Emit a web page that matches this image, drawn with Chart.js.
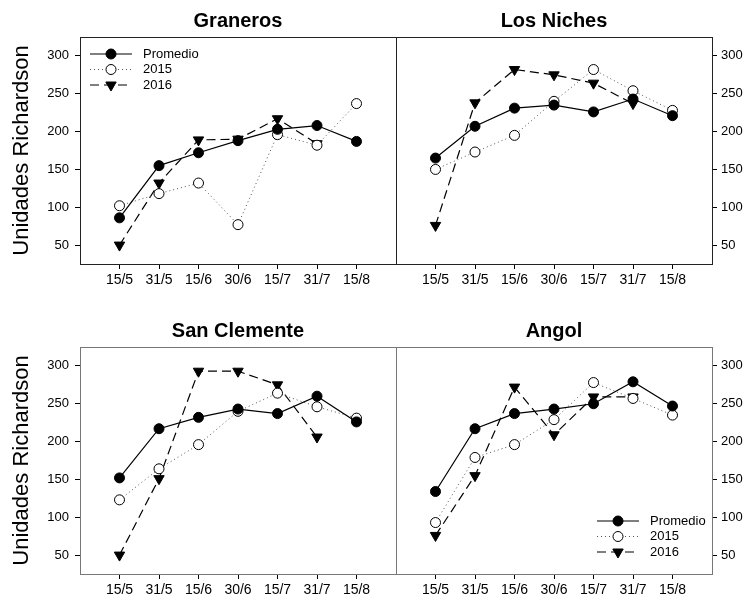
<!DOCTYPE html>
<html>
<head>
<meta charset="utf-8">
<script src="https://cdn.jsdelivr.net/npm/chart.js@4/dist/chart.umd.min.js"></script>
<style>
  body { margin: 0; background: #fff; width: 743px; height: 605px; overflow: hidden; position: relative; }
  canvas { position: absolute; }
</style>
</head>
<body>
<canvas id="graneros" width="397" height="300" style="left:0;top:0"></canvas>
<canvas id="niches" width="347" height="300" style="left:396px;top:0"></canvas>
<canvas id="clemente" width="397" height="300" style="left:0;top:310px"></canvas>
<canvas id="angol" width="347" height="300" style="left:396px;top:310px"></canvas>
<script>
// categories and tick labels
const categories = ["15/5", "31/5", "15/6", "30/6", "15/7", "31/7", "15/8"];
const yTicks = [50, 100, 150, 200, 250, 300];
const seriesNames = ["Promedio", "2015", "2016"];

// values (Unidades Richardson)
const granerosPromedio = [86, 155, 172, 188, 203, 208, 187];
const graneros2015 = [102, 118, 132, 77, 196, 182, 237];
const graneros2016 = [50, 132, 189, 190, 217, 184, null];

const nichesPromedio = [165, 207, 231, 235, 226, 243, 221];
const niches2015 = [150, 173, 195, 240, 282, 254, 228];
const niches2016 = [76, 238, 282, 275, 264, 237, null];

const clementePromedio = [152, 217, 232, 243, 237, 260, 226];
const clemente2015 = [123, 164, 196, 240, 264, 246, 231];
const clemente2016 = [50, 151, 293, 293, 275, 206, null];

const angolPromedio = [134, 217, 237, 243, 250, 279, 247];
const angol2015 = [93, 179, 196, 229, 278, 257, 235];
const angol2016 = [76, 155, 272, 209, 259, 259, null];

const FONT = "'Liberation Sans', Arial, sans-serif";

// series styles
const styles = [
  { borderColor: "#000", borderWidth: 1.2, borderDash: [], pointStyle: "circle", pointRadius: 5, pointBackgroundColor: "#000", pointBorderColor: "#000", pointBorderWidth: 1, pointRotation: 0 },
  { borderColor: "#555", borderWidth: 1, borderDash: [1, 3], pointStyle: "circle", pointRadius: 5, pointBackgroundColor: "#fff", pointBorderColor: "#000", pointBorderWidth: 1, pointRotation: 0 },
  { borderColor: "#000", borderWidth: 1.2, borderDash: [9, 5], pointStyle: "triangle", pointRadius: 6, pointBackgroundColor: "#000", pointBorderColor: "#000", pointBorderWidth: 1, pointRotation: 180 },
];

function toPoints(values) {
  return values.map((v, i) => ({ x: i, y: v }));
}

// frame around the plot area
const boxPlugin = {
  id: "box",
  afterDraw(chart, args, opts) {
    const { ctx, chartArea: a } = chart;
    ctx.save();
    ctx.strokeStyle = opts.color || "#000";
    ctx.lineWidth = 1;
    ctx.strokeRect(Math.round(a.left) + 0.5, Math.round(a.top) + 0.5, Math.round(a.right - a.left), Math.round(a.bottom - a.top));
    ctx.restore();
  },
};

// legend drawn inside the plot area
const innerLegend = {
  id: "innerLegend",
  afterDatasetsDraw(chart, args, opts) {
    if (!opts.show) return;
    const { ctx, chartArea: a } = chart;
    const x0 = a.left + opts.x;
    let y = a.top + opts.y;
    ctx.save();
    seriesNames.forEach((name, i) => {
      const s = styles[i];
      ctx.strokeStyle = s.borderColor;
      ctx.lineWidth = s.borderWidth;
      ctx.setLineDash(s.borderDash);
      ctx.beginPath();
      ctx.moveTo(x0, y);
      ctx.lineTo(x0 + 42, y);
      ctx.stroke();
      ctx.setLineDash([]);
      ctx.fillStyle = s.pointBackgroundColor;
      ctx.strokeStyle = s.pointBorderColor;
      ctx.lineWidth = 1;
      Chart.helpers.drawPoint(ctx, { pointStyle: s.pointStyle, radius: s.pointRadius, rotation: s.pointRotation, borderWidth: 1 }, x0 + 21, y);
      ctx.fillStyle = "#000";
      ctx.font = "13px " + FONT;
      ctx.textBaseline = "middle";
      ctx.fillText(name, x0 + 53, y);
      y += 15.5;
    });
    ctx.restore();
  },
};

function makePanel(id, title, series, side, legendPos, frameColor) {
  const datasets = series.map((values, i) => ({
    label: seriesNames[i],
    data: toPoints(values),
    ...styles[i],
    fill: false,
    tension: 0,
    spanGaps: false,
  }));
  const isLeft = side === "left";
  new Chart(document.getElementById(id).getContext("2d"), {
    type: "line",
    data: { datasets },
    options: {
      responsive: false,
      animation: false,
      events: [],
      layout: { autoPadding: false, padding: { left: 0, right: isLeft ? 1 : 0, top: 0, bottom: 0 } },
      scales: {
        x: {
          type: "linear",
          min: -1,
          max: 7,
          afterBuildTicks: (s) => { s.ticks = categories.map((c, i) => ({ value: i })); },
          afterFit: (s) => { s.height = 36; s.paddingLeft = 0; s.paddingRight = 0; },
          ticks: {
            callback: (v) => categories[v],
            autoSkip: false,
            maxRotation: 0,
            color: "#000",
            padding: 3,
            font: { family: FONT, size: 14 },
          },
          grid: { drawOnChartArea: false, drawTicks: true, tickLength: 5, tickColor: "#000" },
          border: { display: false },
        },
        y: {
          type: "linear",
          position: side,
          min: 25,
          max: 325,
          afterBuildTicks: (s) => { s.ticks = yTicks.map((v) => ({ value: v })); },
          afterFit: (s) => { s.width = isLeft ? 80 : 31; s.paddingTop = 0; s.paddingBottom = 0; },
          ticks: {
            color: "#000",
            padding: isLeft ? 6 : 4,
            font: { family: FONT, size: 13 },
          },
          grid: { drawOnChartArea: false, drawTicks: true, tickLength: 5, tickColor: "#000" },
          border: { display: false },
          title: {
            display: isLeft,
            text: "Unidades Richardson",
            color: "#000",
            font: { family: FONT, size: 22 },
            padding: { top: 9, bottom: 0 },
          },
        },
      },
      plugins: {
        legend: { display: false },
        tooltip: { enabled: false },
        title: {
          display: true,
          text: title,
          fullSize: false,
          color: "#000",
          font: { family: FONT, size: 20, weight: "bold", lineHeight: 1 },
          padding: { top: 11, bottom: 6 },
        },
        box: { color: frameColor },
        innerLegend: legendPos ? { show: true, ...legendPos } : { show: false },
      },
    },
    plugins: [boxPlugin, innerLegend],
  });
}

makePanel("graneros", "Graneros", [granerosPromedio, graneros2015, graneros2016], "left", { x: 10, y: 17 }, "#222");
makePanel("niches", "Los Niches", [nichesPromedio, niches2015, niches2016], "right", null, "#222");
makePanel("clemente", "San Clemente", [clementePromedio, clemente2015, clemente2016], "left", null, "#777");
makePanel("angol", "Angol", [angolPromedio, angol2015, angol2016], "right", { x: 201, y: 174 }, "#777");
</script>
</body>
</html>
